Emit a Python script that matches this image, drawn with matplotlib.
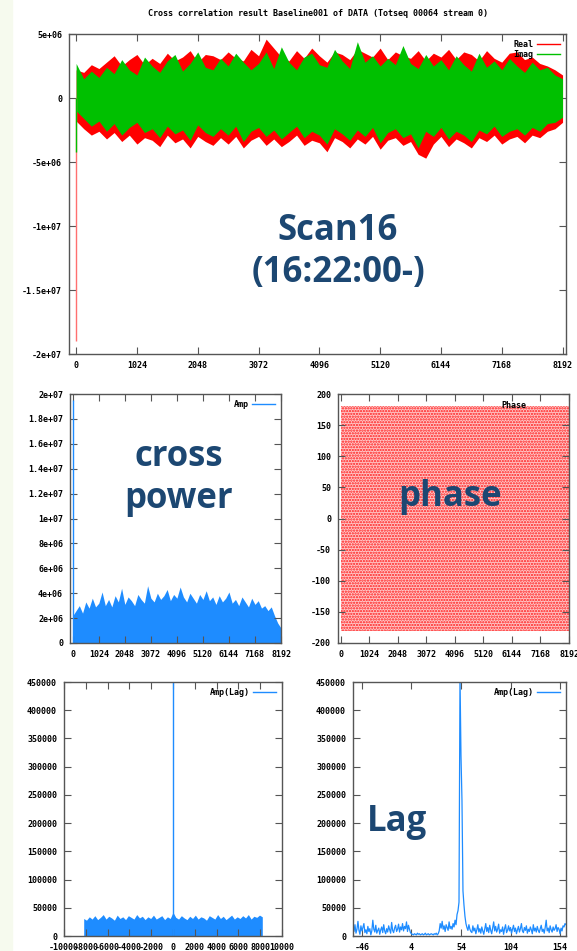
import numpy as np
import matplotlib.pyplot as plt
from matplotlib.patches import Rectangle

W, H = 577, 951
plt.rcParams['hatch.linewidth'] = 1.1

# top panel: envelope of the dense Real / Imag trace (units 1e6), every 128 channels
real_hi = [2.2, 2.0, 2.6, 2.3, 2.8, 3.3, 2.5, 3.0, 3.4, 2.6,
           3.1, 2.7, 3.5, 2.9, 3.2, 3.7, 2.8, 3.4, 3.3, 3.0,
           3.6, 3.1, 2.9, 3.8, 3.3, 4.6, 3.9, 3.2, 2.9, 3.7,
           3.1, 3.9, 3.3, 2.8, 3.6, 3.4, 3.0, 3.8, 3.5, 3.2,
           3.9, 3.0, 3.6, 3.3, 3.1, 3.7, 2.9, 3.5, 3.2, 3.8,
           3.0, 3.6, 3.4, 2.9, 3.7, 3.1, 2.8, 3.5, 3.6, 3.0,
           3.2, 2.7, 2.5, 2.2, 1.8]
real_lo = [-1.8, -2.4, -2.9, -2.6, -3.2, -2.7, -3.4, -2.9, -3.6, -3.1,
           -3.3, -3.8, -2.9, -3.5, -3.2, -3.9, -3.0, -3.4, -3.7, -3.1,
           -3.6, -3.0, -3.9, -3.3, -3.0, -3.7, -3.2, -3.8, -3.4, -2.9,
           -3.7, -3.3, -3.5, -4.2, -3.1, -3.4, -3.9, -3.2, -3.6, -3.0,
           -4.0, -3.3, -3.1, -3.7, -3.4, -4.4, -4.7, -3.6, -3.0, -3.8,
           -3.2, -3.5, -3.9, -3.1, -3.4, -2.9, -3.6, -3.2, -3.0, -3.5,
           -2.9, -3.1, -2.6, -2.4, -1.9]
imag_hi = [2.7, 1.5, 2.1, 1.6, 2.4, 1.9, 3.0, 2.2, 1.8, 3.2,
           2.5, 2.0, 2.9, 3.4, 2.1, 2.7, 3.6, 2.4, 2.2, 3.1,
           2.5, 3.5, 2.8, 2.2, 2.7, 3.6, 2.3, 4.0, 2.8, 2.2,
           3.2, 3.5, 2.6, 2.4, 3.8, 2.9, 2.3, 4.4, 2.8, 3.3,
           2.5, 3.1, 2.6, 4.1, 2.7, 2.3, 3.4, 2.5, 3.0, 2.2,
           3.3, 2.6, 2.1, 3.5, 2.4, 2.9, 2.2, 3.1, 2.5, 2.0,
           2.8, 2.2, 2.4, 1.8, 1.5]
imag_lo = [-1.0, -1.6, -2.2, -1.8, -2.6, -2.0, -2.9, -2.3, -1.9, -2.7,
           -2.4, -3.1, -2.2, -2.8, -2.5, -3.3, -2.1, -2.7, -3.0, -2.4,
           -2.9, -2.2, -3.4, -2.6, -2.3, -3.0, -2.5, -3.2, -2.7, -2.2,
           -3.1, -2.6, -2.9, -3.6, -2.4, -2.8, -3.3, -2.5, -3.0, -2.3,
           -3.5, -2.7, -2.4, -3.1, -2.8, -3.9, -2.6, -3.0, -2.3, -3.2,
           -2.6, -2.9, -3.4, -2.5, -2.8, -2.2, -3.0, -2.6, -2.4, -2.9,
           -2.3, -2.6, -2.0, -1.9, -1.5]
real_first = -19.0
imag_first = -4.2

# cross power envelope (units 1e6)
amp_hi = [2.2, 2.6, 3.0, 2.4, 3.3, 2.8, 3.6, 2.9, 3.2, 4.1,
          3.0, 3.5, 2.9, 3.8, 3.3, 4.4, 3.1, 3.7, 3.4, 3.0,
          3.9, 3.5, 3.2, 4.6, 3.6, 3.3, 4.0, 3.5, 3.8, 4.3,
          3.4, 3.9, 3.6, 4.5, 3.7, 3.3, 4.0, 3.6, 3.2, 3.9,
          3.5, 4.2, 3.4, 3.7, 3.1, 3.8, 3.3, 3.6, 4.1, 3.2,
          3.5, 3.0, 3.7, 3.3, 2.9, 3.6, 3.1, 3.4, 2.8, 3.0,
          2.6, 2.9, 2.2, 1.6, 1.2]
amp_first = 19.5

# phase spread (degrees)
phase_lo, phase_hi = -180, 180

# full lag spectrum envelope (units 1e3), -8192..8192
lag_hi = [31, 28, 34, 30, 36, 29, 33, 38, 30, 35,
          32, 28, 37, 31, 34, 29, 36, 33, 30, 38,
          32, 35, 29, 34, 31, 37, 30, 33, 36, 29,
          34, 31, 42, 33, 30, 36, 32, 29, 35, 31,
          37, 30, 34, 32, 28, 36, 33, 30, 38, 31,
          35, 29, 33, 37, 30, 34, 31, 36, 32, 38,
          30, 35, 33, 37, 34]
lag_peak = 470

# zoomed lag, -55..160 (units 1e3)
lag_x = np.arange(-55, 161)
lag_amp = [14, 8, 20, 5, 12, 26, 10, 3, 18, 9,
           15, 22, 6, 11, 4, 17, 8, 13, 2, 9,
           28, 12, 7, 19, 5, 10, 14, 3, 11, 16,
           6, 20, 9, 4, 13, 7, 18, 11, 5, 24,
           10, 6, 14, 19, 8, 12, 21, 7, 16, 11,
           22, 9, 17, 13, 25, 8, 19, 12, 6, 4,
           3, 2, 4, 3, 2, 5, 3, 4, 2, 3,
           4, 2, 3, 5, 2, 3, 4, 2, 3, 4,
           3, 2, 4, 3, 5, 2, 4, 9, 22, 14,
           26, 12, 18, 8, 20, 15, 10, 25, 13, 17,
           12, 22, 16, 28, 20, 38, 45, 60, 460, 320,
           240, 80, 55, 35, 22, 15, 10, 20, 12, 8,
           6, 18, 9, 14, 4, 11, 20, 7, 13, 5,
           16, 9, 3, 12, 22, 8, 15, 6, 19, 10,
           4, 14, 25, 9, 17, 7, 12, 21, 5, 11,
           8, 16, 3, 13, 20, 6, 10, 18, 9, 15,
           5, 12, 19, 8, 14, 4, 11, 17, 7, 13,
           22, 9, 6, 15, 10, 18, 5, 12, 8, 16,
           11, 4, 20, 9, 14, 7, 17, 10, 6, 13,
           19, 8, 12, 5, 15, 28, 9, 14, 6, 18,
           11, 7, 16, 10, 13, 20, 8, 15, 12, 4,
           14, 9, 18, 16, 22, 20]

chan_ticks = [0, 1024, 2048, 3072, 4096, 5120, 6144, 7168, 8192]
RED, GREEN, BLUE = '#ff0000', '#00c000', '#1e8cff'
MONO = dict(family='DejaVu Sans Mono', size=6, weight='bold')
NAVY = '#1c4772'

fig = plt.figure(figsize=(W / 100, H / 100), dpi=100)
fig.patches.append(Rectangle((0, 0), 12 / W, 1, transform=fig.transFigure,
                             color='#f6faee', zorder=-5))


def panel(l, t, r, b):
    ax = fig.add_axes([l / W, 1 - b / H, (r - l) / W, (b - t) / H])
    for s in ax.spines.values():
        s.set_color('#555555')
        s.set_linewidth(1)
    ax.tick_params(direction='in', length=5, width=0.8, color='#555555',
                   top=True, right=True, pad=5)
    return ax


def ticks(ax, xt, xl, yt, yl):
    ax.set_xticks(xt)
    ax.set_xticklabels(xl, fontdict=MONO)
    ax.set_yticks(yt)
    ax.set_yticklabels(yl, fontdict=MONO)


def key(ax, labels, colors):
    for lab, c in zip(labels, colors):
        ax.plot([], [], color=c, lw=1, label=lab)
    ax.legend(loc='upper right', frameon=False, markerfirst=False,
              prop=MONO, handlelength=2.8, handletextpad=0.4,
              labelspacing=0.15, borderaxespad=0.3)


# top: cross correlation
ax = panel(69, 34, 566, 354)
x = np.linspace(0, 8192, len(real_hi))
ax.fill_between(x, np.array(real_lo) * 1e6, np.array(real_hi) * 1e6,
                color=RED, lw=0, zorder=1)
ax.fill_between(x, np.array(imag_lo) * 1e6, np.array(imag_hi) * 1e6,
                color=GREEN, lw=0, zorder=2)
ax.vlines(0, 0, real_first * 1e6, color='#ff7070', lw=1, zorder=3)
ax.vlines(0, 0, imag_first * 1e6, color=GREEN, lw=1, zorder=3)
ax.set_xlim(-120, 8250)
ax.set_ylim(-2e7, 5e6)
ticks(ax, chan_ticks, [str(t) for t in chan_ticks],
      [5e6, 0, -5e6, -1e7, -1.5e7, -2e7],
      ['5e+06', '0', '-5e+06', '-1e+07', '-1.5e+07', '-2e+07'])
key(ax, ['Real', 'Imag'], [RED, GREEN])
fig.text(318 / W, 1 - 14 / H,
         'Cross correlation result Baseline001 of DATA (Totseq 00064 stream 0)',
         ha='center', va='center', **MONO)

# middle left: cross power
ax = panel(70, 394, 281, 643)
x = np.linspace(0, 8192, len(amp_hi))
ax.fill_between(x, 0, np.array(amp_hi) * 1e6, color=BLUE, lw=0)
ax.vlines(0, 0, amp_first * 1e6, color=BLUE, lw=1)
ax.set_xlim(-110, 8192)
ax.set_ylim(0, 2e7)
yt = np.arange(0, 2.01e7, 2e6)
ticks(ax, chan_ticks, [str(t) for t in chan_ticks], yt,
      ['0'] + ['%de+06' % (v / 1e6) for v in yt[1:5]] +
      ['%ge+07' % (v / 1e7) for v in yt[5:]])
key(ax, ['Amp'], [BLUE])

# middle right: phase (dense cloud of points shown as a dotted band)
ax = panel(338, 394, 569, 643)
ax.fill_between([0, 8192], phase_lo, phase_hi, facecolor='#ffc8c8',
                edgecolor='#ff1a1a', hatch='......', lw=0)
ax.set_xlim(-100, 8192)
ax.set_ylim(-200, 200)
ticks(ax, chan_ticks, [str(t) for t in chan_ticks],
      range(-200, 201, 50), [str(v) for v in range(-200, 201, 50)])
ax.text(0.76, 0.955, 'Phase', transform=ax.transAxes, ha='center', va='center',
        **MONO)

# bottom left: lag spectrum
ax = panel(64, 682, 282, 936)
x = np.linspace(-8192, 8192, len(lag_hi))
ax.fill_between(x, 0, np.array(lag_hi) * 1e3, color=BLUE, lw=0)
ax.vlines(0, 0, lag_peak * 1e3, color=BLUE, lw=1)
ax.set_xlim(-10000, 10000)
ax.set_ylim(0, 450000)
xt = list(range(-10000, 10001, 2000))
ticks(ax, xt, [str(v) for v in xt], range(0, 450001, 50000),
      [str(v) for v in range(0, 450001, 50000)])
key(ax, ['Amp(Lag)'], [BLUE])

# bottom right: lag zoom
ax = panel(353, 682, 566, 936)
ax.plot(lag_x, np.array(lag_amp) * 1e3, color=BLUE, lw=0.9)
ax.set_xlim(-55, 160)
ax.set_ylim(0, 450000)
xt = [-46, 4, 54, 104, 154]
ticks(ax, xt, [str(v) for v in xt], range(0, 450001, 50000),
      [str(v) for v in range(0, 450001, 50000)])
key(ax, ['Amp(Lag)'], [BLUE])

# slide annotations
big = dict(family='Open Sans', weight='bold', size=25, color=NAVY,
           ha='center', va='center')
fig.text(338 / W, 1 - 231 / H, 'Scan16', **big)
fig.text(338 / W, 1 - 273 / H, '(16:22:00-)', **big)
fig.text(179 / W, 1 - 457 / H, 'cross', **big)
fig.text(179 / W, 1 - 499 / H, 'power', **big)
fig.text(450 / W, 1 - 497 / H, 'phase', **big)
fig.text(397 / W, 1 - 822 / H, 'Lag', **big)
fig.text(587 / W, 1 - 620 / H, 'C', family='Open Sans', weight='bold',
         size=24, color='#ff1010', ha='center', va='center')

fig.savefig('out.png', dpi=100)
